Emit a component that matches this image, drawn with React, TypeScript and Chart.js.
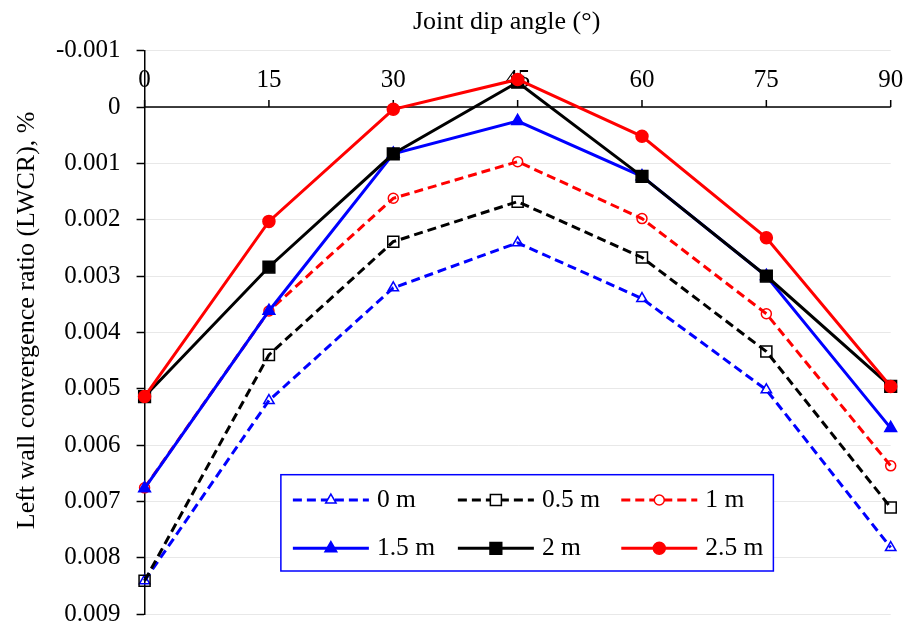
import React, { useEffect, useRef } from 'react';
import { Chart, registerables } from 'chart.js';

Chart.register(...registerables);

// ---- Data ----
const angles = [0, 15, 30, 45, 60, 75, 90];
const seriesLabels = ['0 m', '0.5 m', '1 m', '1.5 m', '2 m', '2.5 m'];
const s0m = [0.00841, 0.00521, 0.00321, 0.00241, 0.0034, 0.00502, 0.00782];
const s05m = [0.00841, 0.0044, 0.00239, 0.00168, 0.00267, 0.00434, 0.00711];
const s1m = [0.00676, 0.00362, 0.00162, 0.00097, 0.00198, 0.00367, 0.00637];
const s15m = [0.00677, 0.00362, 0.00083, 0.00025, 0.00123, 0.003, 0.0057];
const s2m = [0.00514, 0.00284, 0.00083, -0.00044, 0.00123, 0.003, 0.00496];
const s25m = [0.00514, 0.00203, 0.00004, -0.00049, 0.00052, 0.00232, 0.00496];
const yTicks = [-0.001, 0, 0.001, 0.002, 0.003, 0.004, 0.005, 0.006, 0.007, 0.008, 0.009];
const xTitle = 'Joint dip angle (°)';
const yTitle = 'Left wall convergence ratio (LWCR), %';

const seriesValues = [s0m, s05m, s1m, s15m, s2m, s25m];

// ---- Styles ----
const FONT = '"Liberation Serif", "Times New Roman", serif';
const seriesStyles = [
  { color: '#0000FF', dash: [9, 5], point: 'triangle', radius: 6, filled: false },
  { color: '#000000', dash: [9, 5], point: 'rect', radius: 7.8, filled: false },
  { color: '#FF0000', dash: [9, 5], point: 'circle', radius: 5, filled: false },
  { color: '#0000FF', dash: [], point: 'triangle', radius: 6.8, filled: true },
  { color: '#000000', dash: [], point: 'rect', radius: 8.3, filled: true },
  { color: '#FF0000', dash: [], point: 'circle', radius: 6, filled: true },
];

function drawMarker(ctx: CanvasRenderingContext2D, style: string, x: number, y: number, r: number, fill: string | null, stroke: string, lw: number) {
  ctx.save();
  ctx.setLineDash([]);
  ctx.beginPath();
  if (style === 'triangle') {
    let rad = 0;
    ctx.moveTo(x + Math.sin(rad) * r, y - Math.cos(rad) * r);
    rad += (2 * Math.PI) / 3;
    ctx.lineTo(x + Math.sin(rad) * r, y - Math.cos(rad) * r);
    rad += (2 * Math.PI) / 3;
    ctx.lineTo(x + Math.sin(rad) * r, y - Math.cos(rad) * r);
    ctx.closePath();
  } else if (style === 'rect') {
    const s = Math.SQRT1_2 * r;
    ctx.rect(x - s, y - s, 2 * s, 2 * s);
  } else {
    ctx.arc(x, y, r, 0, Math.PI * 2);
  }
  if (fill) {
    ctx.fillStyle = fill;
    ctx.fill();
  }
  ctx.lineWidth = lw;
  ctx.strokeStyle = stroke;
  ctx.stroke();
  ctx.restore();
}

const axisOverlay = {
  id: 'axisOverlay',
  beforeDatasetsDraw(chart: any) {
    const { ctx, chartArea, scales } = chart;
    const x = scales.x;
    const y = scales.y;
    const y0 = y.getPixelForValue(0);
    ctx.save();
    ctx.strokeStyle = '#000';
    ctx.lineWidth = 1.5;
    ctx.beginPath();
    ctx.moveTo(chartArea.left, y0);
    ctx.lineTo(chartArea.right, y0);
    angles.forEach((a) => {
      const px = x.getPixelForValue(a);
      ctx.moveTo(px, y0);
      ctx.lineTo(px, y0 - 7);
    });
    ctx.stroke();
    ctx.fillStyle = '#000';
    ctx.font = `25px ${FONT}`;
    ctx.textAlign = 'center';
    ctx.textBaseline = 'alphabetic';
    angles.forEach((a) => {
      ctx.fillText(String(a), x.getPixelForValue(a), y0 - 20.5);
    });
    // axis titles
    ctx.font = `26px ${FONT}`;
    ctx.fillText(xTitle, (chartArea.left + chartArea.right) / 2 - 11, 28.5);
    ctx.save();
    ctx.translate(33.5, (chartArea.top + chartArea.bottom) / 2 - 12);
    ctx.rotate(-Math.PI / 2);
    ctx.fillText(yTitle, 0, 0);
    ctx.restore();
    ctx.restore();
  },
  afterDatasetsDraw(chart: any) {
    const { ctx, chartArea } = chart;
    const bx = chartArea.left + 136.3;
    const by = chartArea.top + 424;
    const bw = 492.5;
    const bh = 96.3;
    ctx.save();
    ctx.fillStyle = '#fff';
    ctx.fillRect(bx, by, bw, bh);
    ctx.strokeStyle = '#0000FF';
    ctx.lineWidth = 1.5;
    ctx.strokeRect(bx, by, bw, bh);
    const colX = [bx + 12, bx + 177, bx + 340.4];
    const rowY = [by + 25.3, by + 73.6];
    ctx.font = `25.5px ${FONT}`;
    ctx.textAlign = 'left';
    ctx.textBaseline = 'alphabetic';
    seriesLabels.forEach((label, i) => {
      const st = seriesStyles[i];
      const sx = colX[i % 3];
      const sy = rowY[Math.floor(i / 3)];
      ctx.save();
      ctx.strokeStyle = st.color;
      ctx.lineWidth = 3;
      ctx.setLineDash(st.dash);
      ctx.beginPath();
      ctx.moveTo(sx, sy);
      ctx.lineTo(sx + 76, sy);
      ctx.stroke();
      ctx.restore();
      drawMarker(ctx, st.point, sx + 38, sy, st.radius, st.filled ? st.color : '#fff', st.color, 1.5);
      ctx.fillStyle = '#000';
      ctx.fillText(label, sx + 84, sy + 7);
    });
    ctx.restore();
  },
};

export default function App() {
  const canvasRef = useRef<HTMLCanvasElement | null>(null);

  useEffect(() => {
    const canvas = canvasRef.current;
    if (!canvas) return;
    Chart.defaults.font.family = FONT;
    const datasets = seriesLabels.map((label, i) => {
      const st = seriesStyles[i];
      return {
        label,
        data: angles.map((a, j) => ({ x: a, y: seriesValues[i][j] })),
        borderColor: st.color,
        backgroundColor: st.color,
        borderWidth: 3,
        borderDash: st.dash,
        pointStyle: st.point,
        pointRadius: st.radius,
        pointHoverRadius: st.radius,
        pointBorderWidth: 1.5,
        pointBorderColor: st.color,
        pointBackgroundColor: st.filled ? st.color : 'rgba(0,0,0,0)',
        tension: 0,
        clip: false,
        order: seriesLabels.length - 1 - i,
      };
    });

    const chart = new Chart(canvas, {
      type: 'line',
      data: { datasets } as any,
      plugins: [axisOverlay],
      options: {
        animation: false,
        responsive: false,
        layout: { padding: { left: 40, right: 25.3, top: 50.7, bottom: 13 } },
        plugins: { legend: { display: false }, tooltip: { enabled: false } },
        scales: {
          x: {
            type: 'linear',
            display: false,
            min: 0,
            max: 90,
          },
          y: {
            type: 'linear',
            reverse: true,
            min: -0.001,
            max: 0.009,
            afterBuildTicks: (scale: any) => {
              scale.ticks = yTicks.map((v) => ({ value: v }));
            },
            afterFit: (scale: any) => {
              scale.paddingTop = 12.5;
              scale.paddingBottom = 12.5;
            },
            ticks: {
              color: '#000',
              padding: 16,
              font: { family: FONT, size: 25, lineHeight: 1 },
              callback: (v: any) => (Number(v) === 0 ? '0' : Number(v).toFixed(3)),
            },
            grid: {
              color: '#e8e8e8',
              lineWidth: 1,
              tickColor: '#000',
              tickLength: 8,
              drawTicks: true,
              tickWidth: 1.5,
            },
            border: { display: true, color: '#000', width: 1.5 },
          },
        },
      } as any,
    });
    return () => chart.destroy();
  }, []);

  return (
    <div style={{ position: 'absolute', left: 0, top: 0, width: 916, height: 627, background: '#fff' }}>
      <canvas ref={canvasRef} width={916} height={627} style={{ display: 'block' }} />
    </div>
  );
}
